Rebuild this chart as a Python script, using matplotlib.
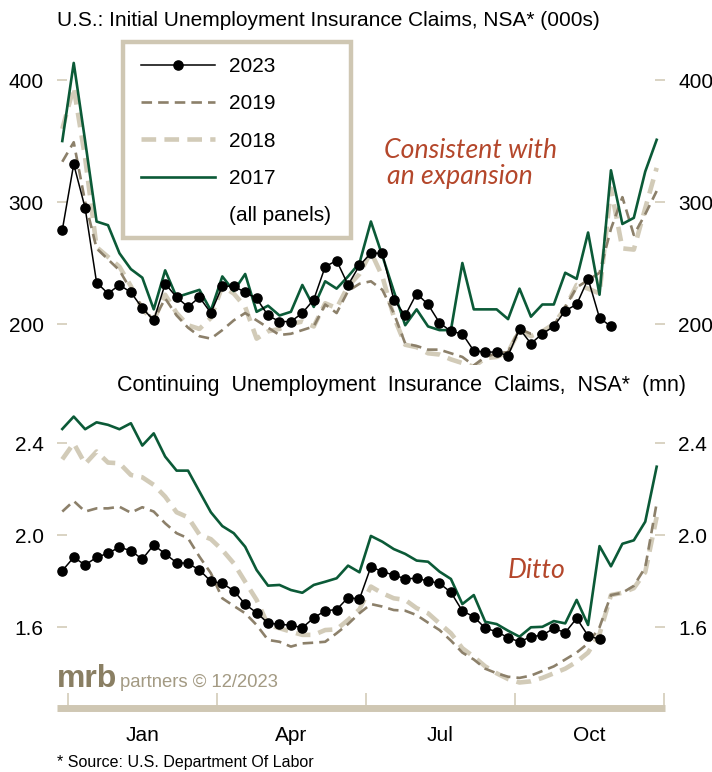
import numpy as np
import matplotlib.pyplot as plt
from matplotlib.lines import Line2D
from matplotlib.patches import Rectangle

plt.rcParams['font.family'] = ['Liberation Sans', 'DejaVu Sans']

# Initial claims, NSA (000s), one value per week
ic_2023 = [277, 331, 295, 234, 225, 232, 226, 213, 203, 233, 222, 214, 222, 209,
           231, 231, 226, 221, 207, 202, 202, 209, 220, 247, 252, 232, 248, 258,
           258, 220, 207, 225, 216, 201, 194, 192, 178, 177, 177, 174, 196, 184,
           192, 198, 211, 216, 237, 205, 198]
ic_2019 = [333, 349, 300, 262, 253, 244, 228, 214, 203, 221, 207, 197, 190, 188,
           195, 203, 209, 203, 197, 191, 192, 195, 198, 216, 209, 227, 233, 235,
           228, 209, 184, 182, 179, 179, 176, 173, 166, 173, 176, 177, 196, 192,
           192, 199, 214, 230, 236, 242, 278, 304, 273, 290, 309]
ic_2018 = [360, 394, 336, 263, 255, 247, 231, 212, 203, 224, 209, 199, 196, 205,
           231, 225, 214, 188, 194, 196, 200, 202, 198, 217, 213, 231, 241, 259,
           239, 206, 183, 181, 176, 175, 171, 168, 165, 172, 173, 177, 195, 190,
           194, 200, 213, 232, 229, 225, 311, 262, 261, 295, 328]
ic_2017 = [350, 414, 350, 284, 281, 258, 245, 238, 212, 244, 222, 225, 228, 211,
           239, 227, 241, 210, 215, 207, 210, 232, 214, 235, 229, 239, 250, 284,
           256, 227, 199, 212, 198, 195, 195, 250, 212, 212, 212, 204, 229, 206,
           216, 216, 242, 237, 275, 224, 326, 282, 287, 325, 351]

# Continuing claims, NSA (mn)
cc_2023 = [1.846, 1.904, 1.871, 1.904, 1.922, 1.948, 1.933, 1.896, 1.958, 1.919,
           1.881, 1.878, 1.849, 1.800, 1.791, 1.759, 1.700, 1.663, 1.618, 1.613,
           1.609, 1.598, 1.641, 1.672, 1.677, 1.729, 1.723, 1.863, 1.842, 1.827,
           1.811, 1.813, 1.801, 1.791, 1.752, 1.671, 1.646, 1.596, 1.581, 1.555,
           1.537, 1.559, 1.566, 1.595, 1.577, 1.639, 1.563, 1.548]
cc_2019 = [2.103, 2.149, 2.103, 2.117, 2.117, 2.124, 2.098, 2.122, 2.103, 2.052,
           2.009, 1.987, 1.907, 1.835, 1.726, 1.693, 1.661, 1.610, 1.545, 1.537,
           1.516, 1.530, 1.533, 1.537, 1.574, 1.614, 1.661, 1.701, 1.690, 1.675,
           1.672, 1.653, 1.620, 1.588, 1.542, 1.490, 1.460, 1.420, 1.400, 1.385,
           1.380, 1.390, 1.410, 1.430, 1.460, 1.490, 1.530, 1.600, 1.740, 1.750,
           1.780, 1.860, 2.140]
cc_2018 = [2.330, 2.400, 2.310, 2.364, 2.316, 2.313, 2.262, 2.252, 2.219, 2.168,
           2.100, 2.078, 2.003, 1.983, 1.936, 1.878, 1.798, 1.719, 1.610, 1.596,
           1.581, 1.567, 1.567, 1.588, 1.591, 1.632, 1.678, 1.777, 1.748, 1.726,
           1.719, 1.683, 1.661, 1.617, 1.574, 1.509, 1.472, 1.430, 1.400, 1.375,
           1.360, 1.365, 1.380, 1.400, 1.420, 1.450, 1.490, 1.570, 1.740, 1.750,
           1.770, 1.840, 2.080]
cc_2017 = [2.462, 2.516, 2.461, 2.491, 2.480, 2.461, 2.487, 2.390, 2.443, 2.342,
           2.281, 2.281, 2.190, 2.100, 2.040, 2.009, 1.950, 1.849, 1.781, 1.784,
           1.762, 1.750, 1.784, 1.798, 1.813, 1.868, 1.839, 1.997, 1.972, 1.940,
           1.919, 1.890, 1.885, 1.842, 1.810, 1.701, 1.740, 1.624, 1.614, 1.585,
           1.559, 1.600, 1.602, 1.627, 1.617, 1.719, 1.610, 1.953, 1.865, 1.963,
           1.978, 2.059, 2.298]

quarter_edges = [0, 91.25, 182.5, 273.75, 365]
months = ['Jan', 'Apr', 'Jul', 'Oct']

BEIGE = '#cfc7b3'
TAUPE = '#8c806a'
LIGHT = '#d2cbb8'
GREEN = '#0b5a37'
RUST = '#b4472b'

W, H = 712, 772


def fx(px):
    return px / W


def fy(py):
    return 1 - py / H


def day_of_year(vals):
    # weekly observations, first week ends just before Jan 1
    return 7 * np.arange(len(vals)) - 3.5


styles = {
    '2018': dict(color=LIGHT, lw=3.3, ls=(0, (3.2, 1.8))),
    '2019': dict(color=TAUPE, lw=1.9, ls=(0, (4.0, 2.3))),
    '2017': dict(color=GREEN, lw=1.9, ls='-'),
    '2023': dict(color='black', lw=1.1, ls='-', marker='o', ms=6.6),
}

fig = plt.figure(figsize=(W / 100, H / 100), dpi=100)
ax1 = fig.add_axes([fx(57), fy(365), fx(665) - fx(57), 325 / H])
ax2 = fig.add_axes([fx(57), fy(707.5), fx(665) - fx(57), 307.5 / H])

panels = [
    (ax1, {'2018': ic_2018, '2019': ic_2019, '2017': ic_2017, '2023': ic_2023},
     (166.4, 432.8), [200, 300, 400], '{:.0f}'),
    (ax2, {'2018': cc_2018, '2019': cc_2019, '2017': cc_2017, '2023': cc_2023},
     (1.2513, 2.588), [1.6, 2.0, 2.4], '{:.1f}'),
]

for ax, series, ylim, yt, fmt in panels:
    for yr in ['2018', '2019', '2017', '2023']:
        vals = series[yr]
        ax.plot(day_of_year(vals), vals, **styles[yr], label=yr)
    ax.set_xlim(-6.74, 365.6)
    ax.set_ylim(*ylim)
    ax.set_yticks(yt)
    ax.set_yticklabels([fmt.format(v) for v in yt])
    ax.tick_params(axis='y', direction='in', length=7, width=1.1, color=BEIGE,
                   labelsize=15, pad=9.5, left=True, right=True,
                   labelleft=True, labelright=True)
    for s in ax.spines.values():
        s.set_visible(False)
    ax.patch.set_alpha(0)

ax1.set_xticks([])

# thick time bar along the bottom of the lower panel
sp = ax2.spines['bottom']
sp.set_visible(True)
sp.set_linewidth(5)
sp.set_color(BEIGE)
sp.set_capstyle('butt')
ax2.set_xticks(quarter_edges)
ax2.set_xticklabels([])
mids = [(a + b) / 2 for a, b in zip(quarter_edges[:-1], quarter_edges[1:])]
ax2.set_xticks(mids, minor=True)
ax2.set_xticklabels(months, minor=True)
ax2.tick_params(axis='x', which='major', direction='in', length=10.5,
                width=1.1, color=BEIGE)
ax2.tick_params(axis='x', which='minor', length=0, labelsize=15, pad=13)

# titles
fig.text(fx(57), fy(26), 'U.S.: Initial Unemployment Insurance Claims, NSA* (000s)',
         fontsize=15, va='baseline', ha='left')
fig.text(fx(117), fy(390.7),
         'Continuing  Unemployment  Insurance  Claims,  NSA*  (mn)',
         fontsize=15.5, va='baseline', ha='left')

# legend
handles = [Line2D([], [], **styles[y]) for y in ['2023', '2019', '2018', '2017']]
handles.append(Line2D([], [], color='none'))
labels = ['2023', '2019', '2018', '2017', '(all panels)']
ax1.legend(handles, labels, loc='upper left', frameon=False, fontsize=15,
           bbox_to_anchor=(fx(141), fy(57)), bbox_transform=fig.transFigure,
           borderpad=0, borderaxespad=0, handlelength=3.55, handletextpad=0.67,
           labelspacing=0.88, numpoints=1)
fig.add_artist(Rectangle((fx(123), fy(238)), (350.5 - 123) / W, 196 / H,
                         transform=fig.transFigure, fill=False,
                         edgecolor=BEIGE, lw=3.2))

# comments
it = dict(family=['Lato', 'DejaVu Sans'], style='italic', color=RUST,
          fontsize=19.2, va='baseline', ha='left')
fig.text(fx(384), fy(158), 'Consistent with', **it)
fig.text(fx(387), fy(184), 'an expansion', **it)
fig.text(fx(508), fy(578), 'Ditto', **it)

# logo and source
fig.text(fx(57), fy(687), 'mrb', fontsize=23, fontweight='bold',
         color='#8a7f63', va='baseline', ha='left')
fig.text(fx(120), fy(687), 'partners \u00a9 12/2023', fontsize=13.3,
         color='#a39a83', va='baseline', ha='left')
fig.text(fx(57), fy(767.5), '* Source: U.S. Department Of Labor', fontsize=11.5,
         va='baseline', ha='left')

fig.savefig('out.png', dpi=100)
